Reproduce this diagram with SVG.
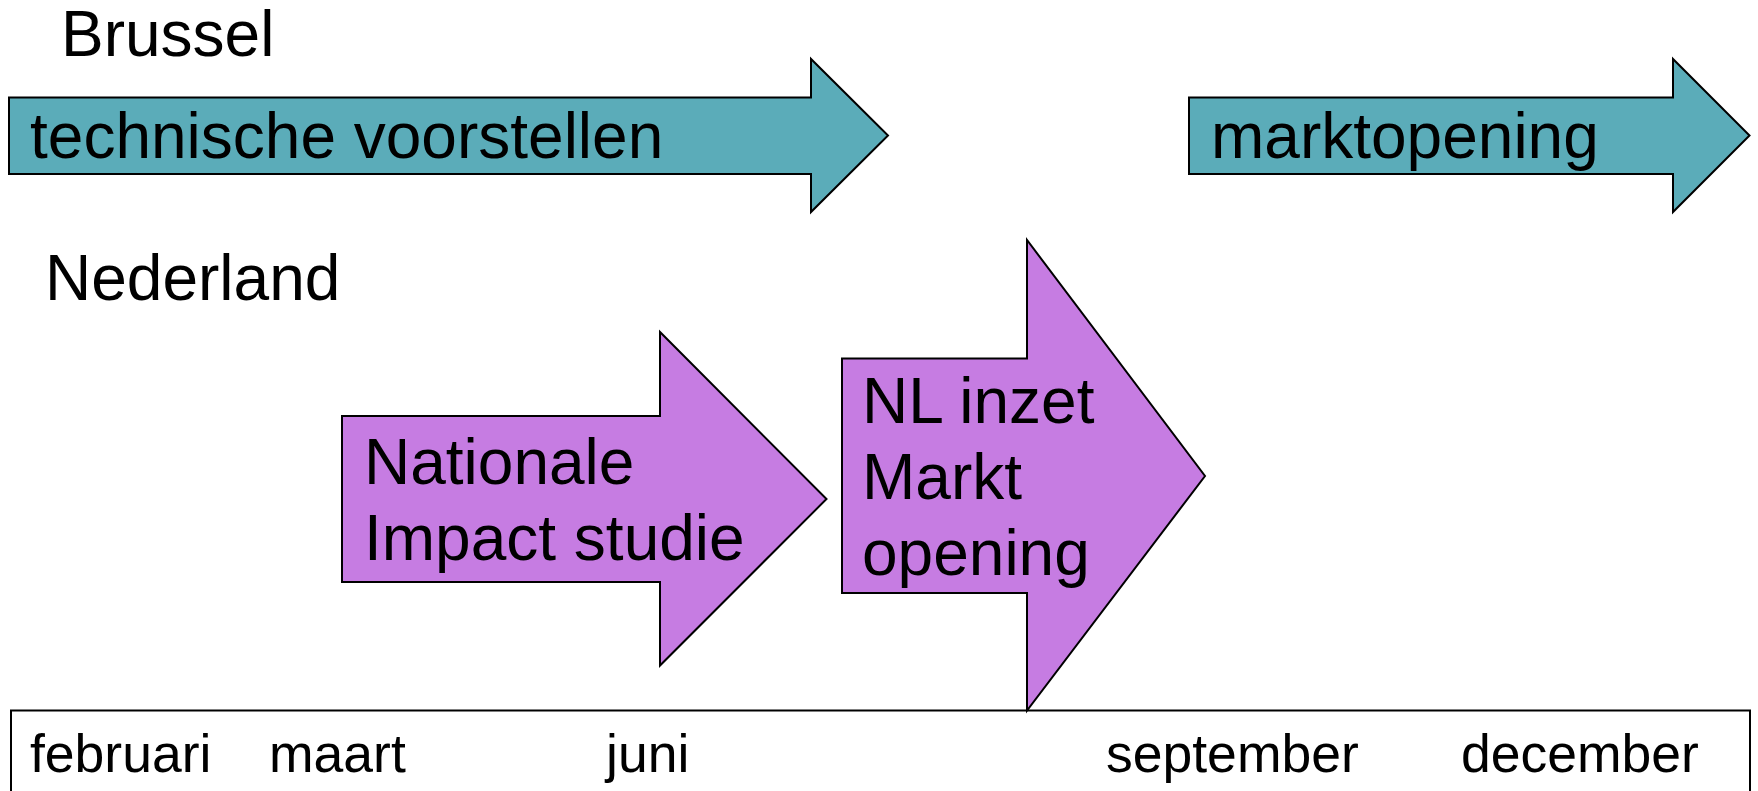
<svg xmlns="http://www.w3.org/2000/svg" width="1758" height="791" viewBox="0 0 1758 791">
<style>
.t{font-family:"Liberation Sans",Arial,sans-serif;fill:#000}
.big{font-size:64px}
.mon{font-size:53.5px}
.teal{fill:#5BACB9;stroke:#000;stroke-width:2;stroke-linejoin:miter}
.purple{fill:#C67CE2;stroke:#000;stroke-width:2;stroke-linejoin:miter}
</style>
<rect width="1758" height="791" fill="#fff"/>
<g id="label-brussel"><text class="t big" x="61" y="56">Brussel</text></g>
<g id="label-nederland"><text class="t big" x="45" y="300">Nederland</text></g>
<g id="node-technische">
<polygon class="teal" points="9,97.5 811,97.5 811,59 888,135.5 811,212 811,174 9,174"/>
<text class="t big" x="30" y="158">technische voorstellen</text>
</g>
<g id="node-marktopening">
<polygon class="teal" points="1189,97.5 1673,97.5 1673,59 1749.5,135.5 1673,212 1673,174 1189,174"/>
<text class="t big" x="1211" y="158">marktopening</text>
</g>
<g id="timeline">
<rect x="11" y="710.5" width="1739" height="100" fill="#fff" stroke="#000" stroke-width="2"/>
<text class="t mon" x="30" y="772">februari</text>
<text class="t mon" x="269" y="772">maart</text>
<text class="t mon" x="606" y="772">juni</text>
<text class="t mon" x="1106" y="772">september</text>
<text class="t mon" x="1461" y="772">december</text>
</g>
<g id="node-impact">
<polygon class="purple" points="342,416 660,416 660,332 826.5,499 660,665.5 660,582 342,582"/>
<text class="t big" x="364" y="484">Nationale</text>
<text class="t big" x="364" y="560">Impact studie</text>
</g>
<g id="node-inzet">
<polygon class="purple" points="842,358.5 1027,358.5 1027,240 1205,476 1027,710.5 1027,593 842,593"/>
<text class="t big" x="862" y="423">NL inzet</text>
<text class="t big" x="862" y="499">Markt</text>
<text class="t big" x="862" y="575">opening</text>
</g>
<g id="connectors"/>
</svg>
